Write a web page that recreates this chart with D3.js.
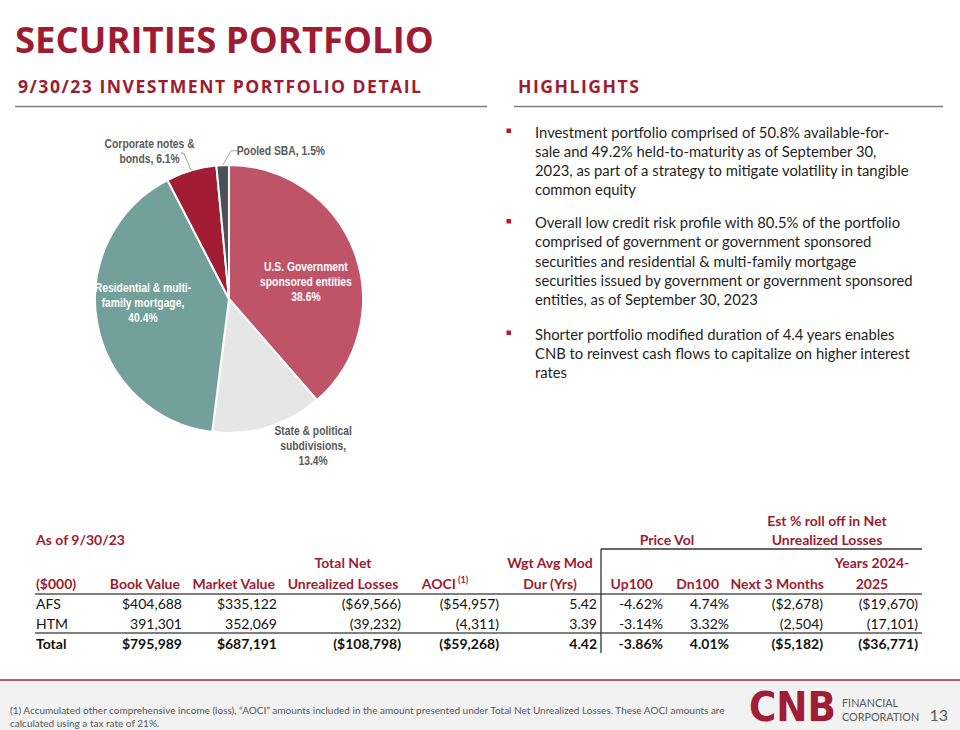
<!DOCTYPE html>
<html>
<head>
<meta charset="utf-8">
<script src="https://cdn.jsdelivr.net/npm/d3@7"></script>
<style>
  html, body { margin: 0; padding: 0; background: #fff; }
  svg { display: block; }
</style>
</head>
<body>
<svg id="chart" width="960" height="730"></svg>
<script>
// ---------------- DATA ----------------
const sliceNames = ["U.S. Government sponsored entities", "State & political subdivisions", "Residential & multi-family mortgage", "Corporate notes & bonds", "Pooled SBA"];
const slicePct = [38.6, 13.4, 40.4, 6.1, 1.5];
const sliceLabelLines = [
  ["U.S. Government", "sponsored entities", "38.6%"],
  ["State & political", "subdivisions,", "13.4%"],
  ["Residential & multi-", "family mortgage,", "40.4%"],
  ["Corporate notes &", "bonds, 6.1%"],
  ["Pooled SBA, 1.5%"]
];
const highlights = [
  ["Investment portfolio comprised of 50.8% available-for-", "sale and 49.2% held-to-maturity as of September 30,", "2023, as part of a strategy to mitigate volatility in tangible", "common equity"],
  ["Overall low credit risk profile with 80.5% of the portfolio", "comprised of government or government sponsored", "securities and residential & multi-family mortgage", "securities issued by government or government sponsored", "entities, as of September 30, 2023"],
  ["Shorter portfolio modified duration of 4.4 years enables", "CNB to reinvest cash flows to capitalize on higher interest", "rates"]
];
const rowLabels = ["AFS", "HTM", "Total"];
const bookValue = [404688, 391301, 795989];
const marketValue = [335122, 352069, 687191];
const unrealizedLoss = [-69566, -39232, -108798];
const aoci = [-54957, -4311, -59268];
const modDuration = [5.42, 3.39, 4.42];
const up100 = [-4.62, -3.14, -3.86];
const dn100 = [4.74, 3.32, 4.01];
const next3Months = [-2678, -2504, -5182];
const years2024_2025 = [-19670, -17101, -36771];
const footnote = ["(1) Accumulated other comprehensive income (loss), \u201cAOCI\u201d amounts included in the amount presented under Total Net Unrealized Losses. These AOCI amounts are", "calculated using a tax rate of 21%."];

// ---------------- STYLE ----------------
const RED = "#9D1C32";
const TXT = "#1f1f1f";
const GRAY = "#595959";
const sliceColors = ["#BF5368", "#E6E6E6", "#73A09B", "#A21D33", "#4B5157"];
const bodyFont = "Lato, 'Open Sans', sans-serif";
const narrowFont = "'Liberation Sans', Arial, sans-serif";

const svg = d3.select("#chart");

// ---------------- HEADER ----------------
svg.append("text").attr("x", 15).attr("y", 53)
  .attr("font-family", "'Open Sans', sans-serif").attr("font-weight", 700)
  .attr("font-size", 36.5).attr("fill", RED).text("SECURITIES PORTFOLIO");

function sectionHead(x, y, t) {
  svg.append("text").attr("x", x).attr("y", y)
    .attr("font-family", "'Open Sans', sans-serif").attr("font-weight", 700)
    .attr("font-size", 17.6).attr("letter-spacing", 1.5).attr("fill", RED).text(t);
}
sectionHead(18, 93, "9/30/23 INVESTMENT PORTFOLIO DETAIL");
sectionHead(518, 93, "HIGHLIGHTS");
svg.append("line").attr("x1", 15).attr("x2", 487).attr("y1", 106.5).attr("y2", 106.5).attr("stroke", "#7f7f7f").attr("stroke-width", 1.5);
svg.append("line").attr("x1", 514).attr("x2", 943).attr("y1", 106.5).attr("y2", 106.5).attr("stroke", "#7f7f7f").attr("stroke-width", 1.5);

// ---------------- PIE ----------------
const cx = 229, cy = 299, R = 134;
const pie = d3.pie().sort(null).value(d => d)(slicePct);
const arc = d3.arc().innerRadius(0).outerRadius(R);
const gPie = svg.append("g").attr("transform", `translate(${cx},${cy})`);
gPie.selectAll("path").data(pie).join("path")
  .attr("d", arc).attr("fill", (d, i) => sliceColors[i])
  .attr("stroke", "#fff").attr("stroke-width", 2);

// label placement: radius factor, dx, dy, anchor, color, leader
const labelCfg = [
  { k: 0.613, dx: 0, dy: 12, anchor: "middle", fill: "#fff" },
  { k: 1.26, dx: 35, dy: -15, anchor: "middle", fill: GRAY },
  { k: 0.652, dx: 0, dy: -11, anchor: "middle", fill: "#fff" },
  { k: 1.28, dx: -31, dy: 17, anchor: "middle", fill: GRAY, leader: [[1.0, 0, 0], [1.12, -3, -2], [1.12, -6, -2]] },
  { k: 1.105, dx: 14, dy: 0, anchor: "start", fill: GRAY, leader: [[1.0, 0, 0], [1.1, 9, -1], [1.1, 15, -1]] }
];
const mid = d => (d.startAngle + d.endAngle) / 2;
const polar = (a, r) => [Math.sin(a) * r, -Math.cos(a) * r];
const lineH = 15;
pie.forEach((d, i) => {
  const c = labelCfg[i];
  const a = mid(d);
  let [x, y] = polar(a, c.k * R);
  x += c.dx; y += c.dy;
  if (i === 4) { x = polar(a, R)[0] + c.dx; }
  const lines = sliceLabelLines[i];
  const y0 = y - (lines.length - 1) * lineH / 2 + 4;
  const t = gPie.append("text")
    .attr("transform", `translate(${x},${y0}) scale(0.82,1)`)
    .attr("font-family", narrowFont).attr("font-weight", 700).attr("font-size", 12.6)
    .attr("fill", c.fill).attr("text-anchor", c.anchor);
  lines.forEach((ln, j) => t.append("tspan").attr("x", 0).attr("y", j * lineH).text(ln));
  if (c.leader) {
    const pts = c.leader.map(([kk, ddx, ddy]) => { const p = polar(a, kk * R); return [p[0] + ddx, p[1] + ddy]; });
    gPie.append("path").attr("d", d3.line()(pts)).attr("fill", "none").attr("stroke", "#a6a6a6").attr("stroke-width", 1);
  }
});

// ---------------- HIGHLIGHTS ----------------
const hlStarts = [137.5, 228, 339.5];
const hlLH = 19.3;
highlights.forEach((para, p) => {
  svg.append("rect").attr("x", 506.5).attr("y", hlStarts[p] - 9).attr("width", 4.5).attr("height", 4.5).attr("fill", "#C0142D");
  const t = svg.append("text").attr("font-family", bodyFont).attr("font-size", 14.8).attr("fill", TXT);
  para.forEach((ln, j) => t.append("tspan").attr("x", 535).attr("y", hlStarts[p] + j * hlLH).text(ln));
});

// ---------------- TABLE ----------------
const fmtInt = d3.format(",");
function money(v, dollar) {
  const s = (dollar ? "$" : "") + fmtInt(Math.abs(v));
  return v < 0 ? "(" + s + ")" : s;
}
function pct(v) { return (v < 0 ? "-" : "") + d3.format(".2f")(Math.abs(v)) + "%"; }
const withDollar = [true, false, true];
const columns = [
  { head: ["", "Book Value"], x: 182, values: bookValue.map((v, i) => money(v, withDollar[i])) },
  { head: ["", "Market Value"], x: 277, values: marketValue.map((v, i) => money(v, withDollar[i])) },
  { head: ["Total Net", "Unrealized Losses"], x: 401, hx: 343, hAnchor: "middle", values: unrealizedLoss.map((v, i) => money(v, withDollar[i])) },
  { head: ["", "AOCI"], x: 499, hx: 476, sup: true, values: aoci.map((v, i) => money(v, withDollar[i])) },
  { head: ["Wgt Avg Mod", "Dur (Yrs)"], x: 597, hx: 550, hAnchor: "middle", values: modDuration.map(v => d3.format(".2f")(v)) },
  { head: ["", "Up100"], x: 663, hx: 653, values: up100.map(pct) },
  { head: ["", "Dn100"], x: 729, hx: 719, values: dn100.map(pct) },
  { head: ["", "Next 3 Months"], x: 823, hx: 824, values: next3Months.map((v, i) => money(v, withDollar[i])) },
  { head: ["Years 2024-", "2025"], x: 918, hx: 872, hAnchor: "middle", values: years2024_2025.map((v, i) => money(v, withDollar[i])) }
];
const tFont = 14;
const tg = svg.append("g").attr("font-family", bodyFont).attr("font-size", tFont);
const head = (x, y, t, anchor) => tg.append("text").attr("x", x).attr("y", y).attr("font-weight", 700)
  .attr("fill", RED).attr("text-anchor", anchor || "start").text(t);
head(36, 545, "As of 9/30/23");
head(667, 545, "Price Vol", "middle");
head(827, 526, "Est % roll off in Net", "middle");
head(827, 545, "Unrealized Losses", "middle");
head(36, 589, "($000)");
const hY = [568, 589];
const rowY = [609, 629, 649];
columns.forEach(c => {
  const hx = c.hx !== undefined ? c.hx : c.x - 2;
  const anchor = c.hAnchor || "end";
  c.head.forEach((h, j) => {
    if (!h) return;
    const t = head(c.sup && j === 1 ? hx - 20 : hx, hY[j], h, anchor);
    if (c.sup && j === 1) {
      t.attr("text-anchor", "end");
      tg.append("text").attr("x", hx - 18).attr("y", hY[j] - 6).attr("font-size", 9).attr("font-weight", 700).attr("fill", RED).text("(1)");
    }
  });
  c.values.forEach((v, r) => {
    tg.append("text").attr("x", c.x).attr("y", rowY[r]).attr("text-anchor", "end")
      .attr("font-weight", r === 2 ? 700 : 400).attr("fill", "#111").text(v);
  });
});
rowLabels.forEach((l, r) => {
  tg.append("text").attr("x", 36).attr("y", rowY[r]).attr("font-weight", r === 2 ? 700 : 400).attr("fill", "#111").text(l);
});
const lineCol = "#555";
svg.append("line").attr("x1", 35).attr("x2", 922).attr("y1", 594).attr("y2", 594).attr("stroke", lineCol).attr("stroke-width", 1.5);
svg.append("line").attr("x1", 35).attr("x2", 922).attr("y1", 633).attr("y2", 633).attr("stroke", lineCol).attr("stroke-width", 1.5);
svg.append("line").attr("x1", 601).attr("x2", 922).attr("y1", 549).attr("y2", 549).attr("stroke", "#333").attr("stroke-width", 1.3);
svg.append("line").attr("x1", 601).attr("x2", 601).attr("y1", 549).attr("y2", 653).attr("stroke", "#333").attr("stroke-width", 1.3);

// ---------------- FOOTER ----------------
svg.append("rect").attr("x", 0).attr("y", 680).attr("width", 960).attr("height", 50).attr("fill", "#F2F2F2");
svg.append("line").attr("x1", 0).attr("x2", 960).attr("y1", 680).attr("y2", 680).attr("stroke", "#9D2A3C").attr("stroke-width", 1.5);
const ft = svg.append("text").attr("font-family", bodyFont).attr("font-size", 10).attr("fill", GRAY);
footnote.forEach((l, j) => ft.append("tspan").attr("x", 10).attr("y", 714 + j * 12.5).text(l));

// logo
svg.append("text").attr("x", 749).attr("y", 721).attr("font-family", "'DejaVu Sans', sans-serif").attr("font-weight", 700)
  .attr("font-size", 40).attr("fill", "#A01E35").attr("textLength", 87).attr("lengthAdjust", "spacingAndGlyphs").text("CNB");
const lg = svg.append("text").attr("font-family", bodyFont).attr("font-size", 10.8).attr("fill", GRAY);
lg.append("tspan").attr("x", 842).attr("y", 707).text("FINANCIAL");
lg.append("tspan").attr("x", 842).attr("y", 721).text("CORPORATION");
svg.append("text").attr("x", 948).attr("y", 721).attr("text-anchor", "end").attr("font-family", bodyFont)
  .attr("font-size", 16).attr("fill", GRAY).text("13");
</script>
</body>
</html>
